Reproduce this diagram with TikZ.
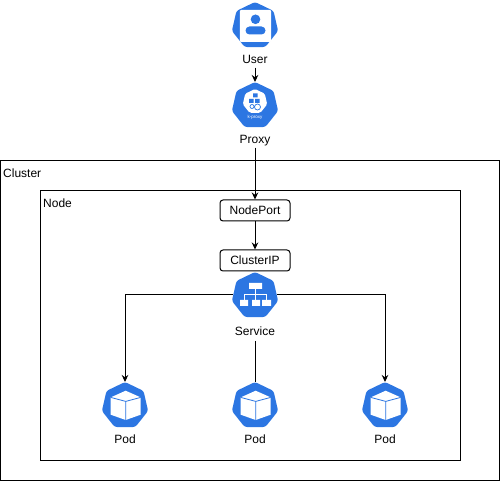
\documentclass[tikz,border=0pt]{standalone}
\usepackage{fontspec}
\setmainfont{Liberation Sans}
\usetikzlibrary{
	arrows.meta,
	positioning,
	shapes.geometric
}
\definecolor{kubeblue}{HTML}{2C76E2}

\begin{document}
\begin{tikzpicture}[
			x=1pt, y=-1pt,
			font=\fontsize{12}{14}\selectfont,
			hepta/.style={regular polygon, regular polygon sides=7, minimum size=47.4pt, inner sep=0pt, outer sep=0pt, fill=kubeblue, rounded corners=2.5pt},
			etiqueta/.style={inner sep=0pt, text height=8.6pt, text depth=2.5pt},
			caixa/.style={draw, line width=1pt, rounded corners=3pt, minimum width=70pt, minimum height=21pt, inner sep=0pt},
			area/.style={draw, line width=1pt, fill=white},
			>={Stealth[length=7pt, width=6.5pt]},
			fl/.style={->, line width=1pt},
			cubo/.pic={
				\fill[white] (0.7,-15) -- (15.7,-8.3) -- (15.7,9) -- (0.7,14.3) -- (-14.3,9) -- (-14.3,-8.3) -- cycle;
				\draw[kubeblue, line width=0.8pt] (-14.3,-8.3) -- (0.7,-4.3) -- (15.7,-8.3) (0.7,-4.3) -- (0.7,14.3);
			}
		]
		\useasboundingbox (0,0) rectangle (501,481);

		% areas
		\draw[area] (0.5,160.5) rectangle (499.5,480.5);
		\draw[area] (40.5,190.5) rectangle (460.5,460.5);
		\node[etiqueta, anchor=west] (cluster) at (3,174) {Cluster};
		\node[etiqueta, anchor=west] (nodo) at (43,204) {Node};

		% user and proxy
		\node[hepta] (user) at (255,25.7) {};
		\node[etiqueta] (userl) at (255,60) {User};
		\node[hepta] (proxy) at (255,105.7) {};
		\node[etiqueta] (proxyl) at (255,140) {Proxy};
		\fill[white, rounded corners=1pt] (239.8,10) rectangle (271,42);
		\fill[kubeblue] (255.5,19.3) circle (4.8pt);
		\fill[kubeblue, rounded corners=4pt] (245.5,34.5) -- (245.5,26.5) -- (265.5,26.5) -- (265.5,34.5) -- cycle;
		\node[regular polygon, regular polygon sides=7, minimum size=25pt, inner sep=0pt, fill=white, rounded corners=1.5pt] (proxyw) at (255,101.5) {};
		\fill[kubeblue] (253,93.5) rectangle (257.5,97.5) (249,99) rectangle (253.5,103) (255,99) rectangle (259.5,103);
		\draw[kubeblue, line width=0.7pt] (252,106.5) circle (2pt) (257.5,107) circle (3pt);
		\node[text=white, inner sep=0pt, font=\fontsize{4.5}{5}\selectfont] (proxyt) at (255,117) {k-proxy};

		% ports
		\node[caixa] (nodeport) at (255,210.5) {NodePort};
		\node[caixa] (clusterip) at (255,260.5) {ClusterIP};

		% service
		\node[hepta] (service) at (255,295.7) {};
		\node[etiqueta] (servicel) at (255,332) {Service};
		\fill[white] (249,283) rectangle (262,289)
			(240,300) rectangle (248,306) (252,300) rectangle (260,306) (262,300) rectangle (271,306);
		\draw[white, line width=0.8pt] (255.5,289) -- (255.5,300) (244,300) -- (244,294.5) -- (266.5,294.5) -- (266.5,300);

		% pods
		\node[hepta] (poda) at (125,405.7) {};
		\node[hepta] (podb) at (255,405.7) {};
		\node[hepta] (podc) at (385,405.7) {};
		\path (poda.center) pic {cubo};
		\path (podb.center) pic {cubo};
		\path (podc.center) pic {cubo};
		\node[etiqueta, below=28.5pt of poda.center] (podal) {Pod};
		\node[etiqueta, below=28.5pt of podb.center] (podbl) {Pod};
		\node[etiqueta, below=28.5pt of podc.center] (podcl) {Pod};

		\draw[fl] (userl.south) ++(0,2) -- (proxy.north);
		\draw[fl] (proxyl.south) ++(0,2) -- (nodeport.north);
		\draw[fl] (nodeport) -- (clusterip);
		\draw[fl] (service.west |- 0,295) -| (poda.north);
		\draw[fl] (service.east |- 0,295) -| (podc.north);
		\draw[line width=1pt] (servicel.south) ++(0,3) -- (podb.north);
	\end{tikzpicture}
\end{document}
